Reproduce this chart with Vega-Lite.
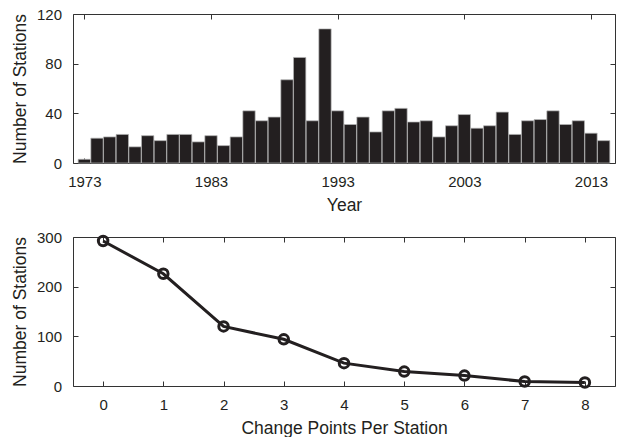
{
  "$schema": "https://vega.github.io/schema/vega-lite/v6.json",
  "padding": {"left": 11, "top": 7, "right": 5, "bottom": 5},
  "background": "white",
  "spacing": 16,
  "config": {
    "view": {"stroke": null},
    "font": "Liberation Sans",
    "axis": {
      "labelFont": "Liberation Sans",
      "titleFont": "Liberation Sans",
      "labelFontSize": 15,
      "titleFontSize": 17.5,
      "titleFontWeight": "normal",
      "labelColor": "#231f20",
      "titleColor": "#231f20",
      "domainColor": "#333333",
      "tickColor": "#333333",
      "domainWidth": 1,
      "tickWidth": 1,
      "grid": false,
      "tickSize": -5,
      "labelPadding": 16.5,
      "titlePadding": 6.5
    }
  },
  "datasets": {
    "years": [
      {"year": 1973, "stations": 3}, {"year": 1974, "stations": 20}, {"year": 1975, "stations": 21},
      {"year": 1976, "stations": 23}, {"year": 1977, "stations": 13}, {"year": 1978, "stations": 22},
      {"year": 1979, "stations": 18}, {"year": 1980, "stations": 23}, {"year": 1981, "stations": 23},
      {"year": 1982, "stations": 17}, {"year": 1983, "stations": 22}, {"year": 1984, "stations": 14},
      {"year": 1985, "stations": 21}, {"year": 1986, "stations": 42}, {"year": 1987, "stations": 34},
      {"year": 1988, "stations": 37}, {"year": 1989, "stations": 67}, {"year": 1990, "stations": 85},
      {"year": 1991, "stations": 34}, {"year": 1992, "stations": 108}, {"year": 1993, "stations": 42},
      {"year": 1994, "stations": 31}, {"year": 1995, "stations": 37}, {"year": 1996, "stations": 25},
      {"year": 1997, "stations": 42}, {"year": 1998, "stations": 44}, {"year": 1999, "stations": 33},
      {"year": 2000, "stations": 34}, {"year": 2001, "stations": 21}, {"year": 2002, "stations": 30},
      {"year": 2003, "stations": 39}, {"year": 2004, "stations": 28}, {"year": 2005, "stations": 30},
      {"year": 2006, "stations": 41}, {"year": 2007, "stations": 23}, {"year": 2008, "stations": 34},
      {"year": 2009, "stations": 35}, {"year": 2010, "stations": 42}, {"year": 2011, "stations": 31},
      {"year": 2012, "stations": 34}, {"year": 2013, "stations": 24}, {"year": 2014, "stations": 18}
    ],
    "changes": [
      {"cp": 0, "stations": 292}, {"cp": 1, "stations": 226}, {"cp": 2, "stations": 120},
      {"cp": 3, "stations": 94}, {"cp": 4, "stations": 46}, {"cp": 5, "stations": 29},
      {"cp": 6, "stations": 21}, {"cp": 7, "stations": 9}, {"cp": 8, "stations": 7}
    ]
  },
  "vconcat": [
    {
      "width": 542,
      "height": 149,
      "data": {"name": "years"},
      "resolve": {"axis": {"x": "independent", "y": "independent"}},
      "layer": [
        {
          "mark": {"type": "bar", "size": 12.3, "color": "#231f20", "stroke": "#b5b5b5", "strokeWidth": 0.7},
          "encoding": {
            "x": {"field": "year", "type": "quantitative",
                  "scale": {"domain": [1972.5, 2014.5], "nice": false, "zero": false},
                  "axis": {"values": [1973, 1983, 1993, 2003, 2013], "format": "d", "title": "Year", "orient": "bottom"}},
            "y": {"field": "stations", "type": "quantitative",
                  "scale": {"domain": [0, 120], "nice": false},
                  "axis": {"values": [0, 40, 80, 120], "title": "Number of Stations", "orient": "left"}}
          }
        },
        {
          "mark": {"type": "point", "opacity": 0},
          "encoding": {
            "x": {"field": "year", "type": "quantitative",
                  "axis": {"values": [1973, 1983, 1993, 2003, 2013], "labels": false, "title": null, "orient": "top"}},
            "y": {"field": "stations", "type": "quantitative",
                  "axis": {"values": [0, 40, 80, 120], "labels": false, "title": null, "orient": "right"}}
          }
        }
      ]
    },
    {
      "width": 542,
      "height": 149,
      "data": {"name": "changes"},
      "resolve": {"axis": {"x": "independent", "y": "independent"}},
      "layer": [
        {
          "mark": {"type": "line", "color": "#231f20", "strokeWidth": 3},
          "encoding": {
            "x": {"field": "cp", "type": "quantitative",
                  "scale": {"domain": [-0.5, 8.5], "nice": false, "zero": false},
                  "axis": {"values": [0, 1, 2, 3, 4, 5, 6, 7, 8], "title": "Change Points Per Station", "orient": "bottom"}},
            "y": {"field": "stations", "type": "quantitative",
                  "scale": {"domain": [0, 300], "nice": false},
                  "axis": {"values": [0, 100, 200, 300], "title": "Number of Stations", "orient": "left"}}
          }
        },
        {
          "mark": {"type": "point", "shape": "circle", "filled": false, "color": "#231f20", "size": 90, "strokeWidth": 3, "opacity": 1},
          "encoding": {
            "x": {"field": "cp", "type": "quantitative",
                  "axis": {"values": [0, 1, 2, 3, 4, 5, 6, 7, 8], "labels": false, "title": null, "orient": "top"}},
            "y": {"field": "stations", "type": "quantitative",
                  "axis": {"values": [0, 100, 200, 300], "labels": false, "title": null, "orient": "right"}}
          }
        }
      ]
    }
  ]
}
